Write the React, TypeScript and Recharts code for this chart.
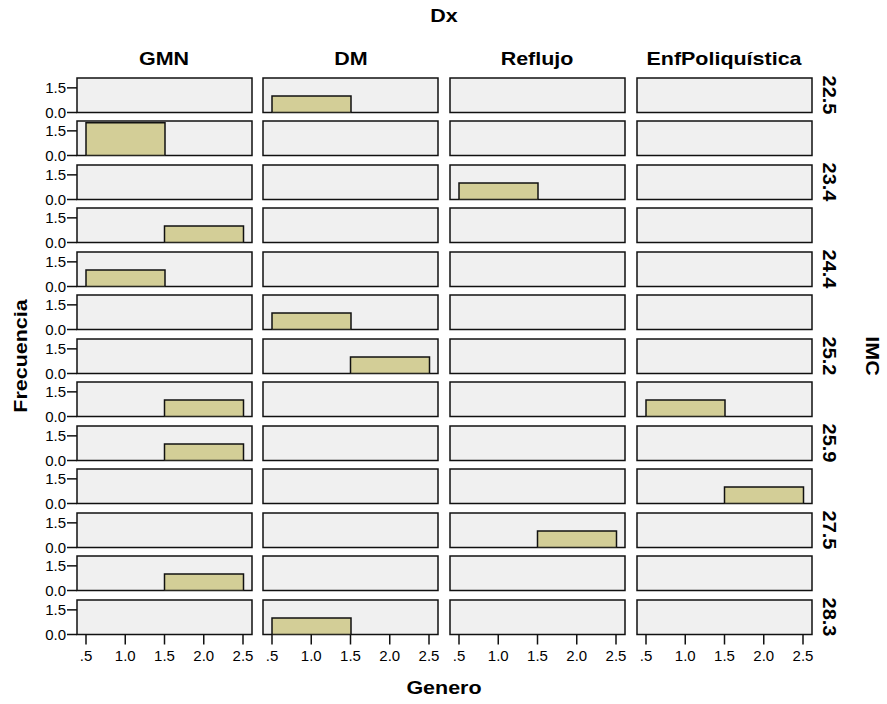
import React from 'react';
import { BarChart, Bar, XAxis, YAxis, CartesianGrid, ReferenceArea } from 'recharts';

const dxCategories = ['GMN', 'DM', 'Reflujo', 'EnfPoliquística'];
const imcLabels = ['22.5', '', '23.4', '', '24.4', '', '25.2', '', '25.9', '', '27.5', '', '28.3'];
const generoCategories = [1, 2];
// rows = IMC panels (top to bottom), columns = Dx
const countsGenero1 = [
  [0, 1, 0, 0],
  [2, 0, 0, 0],
  [0, 0, 1, 0],
  [0, 0, 0, 0],
  [1, 0, 0, 0],
  [0, 1, 0, 0],
  [0, 0, 0, 0],
  [0, 0, 0, 1],
  [0, 0, 0, 0],
  [0, 0, 0, 0],
  [0, 0, 0, 0],
  [0, 0, 0, 0],
  [0, 1, 0, 0],
];
const countsGenero2 = [
  [0, 0, 0, 0],
  [0, 0, 0, 0],
  [0, 0, 0, 0],
  [1, 0, 0, 0],
  [0, 0, 0, 0],
  [0, 0, 0, 0],
  [0, 1, 0, 0],
  [1, 0, 0, 0],
  [1, 0, 0, 0],
  [0, 0, 0, 1],
  [0, 0, 1, 0],
  [1, 0, 0, 0],
  [0, 0, 0, 0],
];
const yTicks = [0, 1.5];
const xTicks = [0.5, 1, 1.5, 2, 2.5];
const yDomain: [number, number] = [0, 2.1];

const FONT = '"Liberation Sans", Arial, Helvetica, sans-serif';
const PLOT_LEFT0 = 76.7;
const COL_PITCH = 186.6;
const PLOT_W = 175;
const PLOT_TOP0 = 77.7;
const ROW_PITCH = 43.5;
const PLOT_H = 34.5;
const PAD = 9;
const M = 10;
const Y_W = 60;
const X_H = 32;
const BAR_FILL = '#d3ce97';
const LINE = '#111';

const unitPx = (PLOT_W - 2 * PAD) / 2;
const xDomain: [number, number] = [0.5 - PAD / unitPx, 2.5 + PAD / unitPx];

const fmtX = (v: number) => (v === 0.5 ? '.5' : v.toFixed(1));
const fmtY = (v: number) => v.toFixed(1);

function Panel({ r, c }: { r: number; c: number }) {
  const showY = c === 0;
  const showX = r === imcLabels.length - 1;
  const yw = showY ? Y_W : 0;
  const xh = showX ? X_H : 0;
  const data = generoCategories.map((g, i) => ({
    g,
    v: i === 0 ? countsGenero1[r][c] : countsGenero2[r][c],
  }));
  const left = PLOT_LEFT0 + c * COL_PITCH - yw - M;
  const top = PLOT_TOP0 + r * ROW_PITCH - M;
  return (
    <div style={{ position: 'absolute', left, top }}>
      <BarChart
        width={yw + PLOT_W + 2 * M}
        height={PLOT_H + xh + 2 * M}
        data={data}
        margin={{ top: M, right: M, bottom: M, left: M }}
        barCategoryGap={0}
        barGap={0}
      >
        <CartesianGrid xAxisId="n" horizontal={false} vertical={false} fill="#f0f0f0" fillOpacity={1} stroke="none" />
        <XAxis
          xAxisId="n"
          dataKey="g"
          type="number"
          domain={xDomain}
          allowDataOverflow
          ticks={xTicks}
          interval={0}
          tickFormatter={fmtX}
          hide={!showX}
          height={X_H}
          axisLine={false}
          tickSize={10}
          tickMargin={6}
          tickLine={{ stroke: LINE, strokeWidth: 1.5 }}
          tick={{ fontSize: 15, fill: '#000', fontFamily: FONT }}
        />
        <XAxis xAxisId="c" dataKey="g" type="category" orientation="top" height={0} hide padding={{ left: PAD, right: PAD }} />
        <YAxis
          domain={yDomain}
          allowDataOverflow
          ticks={yTicks}
          interval={0}
          tickFormatter={fmtY}
          hide={!showY}
          width={Y_W}
          axisLine={false}
          tickSize={10}
          tickMargin={1}
          tickLine={{ stroke: LINE, strokeWidth: 1.5 }}
          tick={{ fontSize: 15, fill: '#000', fontFamily: FONT }}
        />
        <Bar
          xAxisId="c"
          dataKey="v"
          fill={BAR_FILL}
          stroke={LINE}
          strokeWidth={1.5}
          isAnimationActive={false}
        />
        <ReferenceArea
          xAxisId="n"
          x1={xDomain[0]}
          x2={xDomain[1]}
          y1={yDomain[0]}
          y2={yDomain[1]}
          fill="none"
          fillOpacity={0}
          stroke={LINE}
          strokeWidth={1.5}
          ifOverflow="visible"
        />
      </BarChart>
    </div>
  );
}

function Label({ text, x, y, rotate = 0, size = 18.5, scale = 1.16 }: { text: string; x: number; y: number; rotate?: number; size?: number; scale?: number }) {
  return (
    <div
      style={{
        position: 'absolute',
        left: x,
        top: y,
        transform: `translate(-50%, -50%) rotate(${rotate}deg) scaleX(${scale})`,
        fontFamily: FONT,
        fontWeight: 'bold',
        fontSize: size,
        lineHeight: 1,
        whiteSpace: 'nowrap',
        color: '#000',
      }}
    >
      {text}
    </div>
  );
}

export default function App() {
  const gridCenterX = PLOT_LEFT0 + (3 * COL_PITCH + PLOT_W) / 2;
  const gridCenterY = PLOT_TOP0 + ((imcLabels.length - 1) * ROW_PITCH + PLOT_H) / 2;
  return (
    <div style={{ position: 'absolute', left: 0, top: 0, width: 887, height: 704, background: '#fff', overflow: 'hidden' }}>
      <style>{'.recharts-surface{overflow:visible}'}</style>
      <Label text="Dx" x={gridCenterX} y={16} />
      {dxCategories.map((d, c) => (
        <Label key={d} text={d} x={PLOT_LEFT0 + c * COL_PITCH + PLOT_W / 2} y={59} />
      ))}
      {imcLabels.map((lab, r) =>
        lab ? <Label key={r} text={lab} x={829} y={PLOT_TOP0 + r * ROW_PITCH + PLOT_H / 2} rotate={90} scale={1.08} /> : null
      )}
      <Label text="IMC" x={872} y={gridCenterY} rotate={90} />
      <Label text="Frecuencia" x={20.5} y={gridCenterY} rotate={-90} />
      <Label text="Genero" x={gridCenterX} y={688} />
      {imcLabels.map((_, r) =>
        dxCategories.map((__, c) => <Panel key={`${r}-${c}`} r={r} c={c} />)
      )}
    </div>
  );
}
